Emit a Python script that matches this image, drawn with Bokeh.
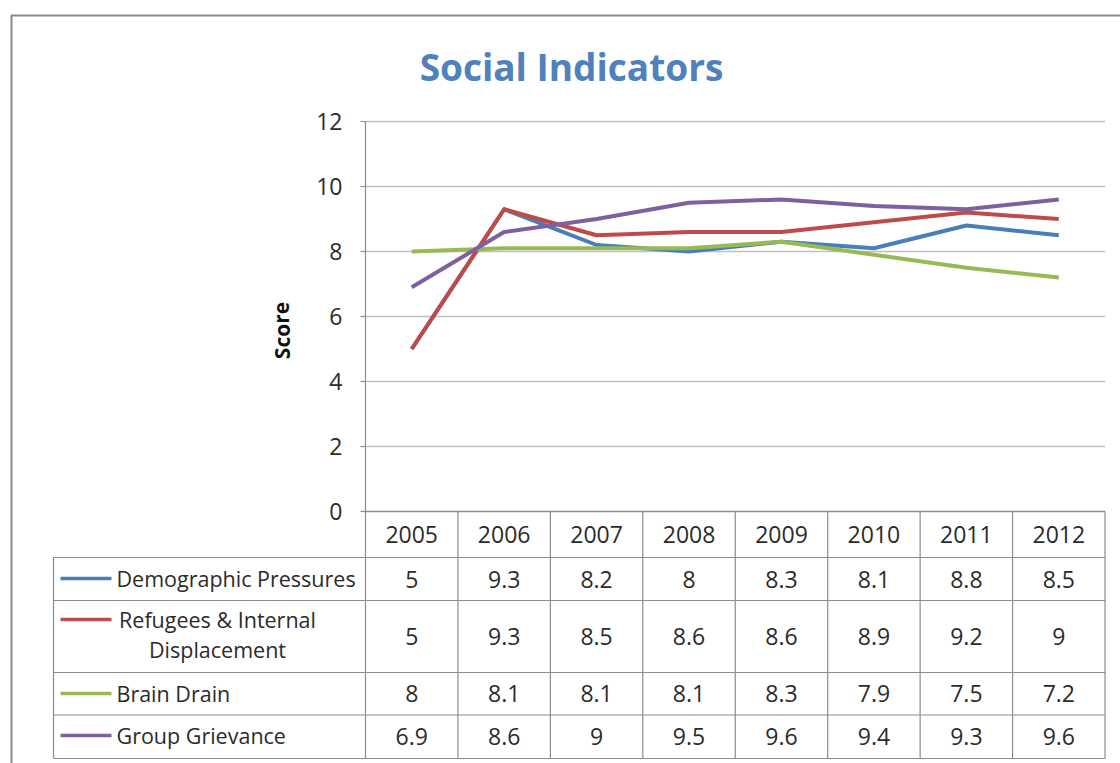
from bokeh.plotting import figure
from bokeh.models import Range1d
from bokeh.core.properties import value
from bokeh.embed import file_html
from bokeh.resources import INLINE

# ---------------- data ----------------
years = ["2005", "2006", "2007", "2008", "2009", "2010", "2011", "2012"]
demographic = [5, 9.3, 8.2, 8, 8.3, 8.1, 8.8, 8.5]
refugees = [5, 9.3, 8.5, 8.6, 8.6, 8.9, 9.2, 9]
brain_drain = [8, 8.1, 8.1, 8.1, 8.3, 7.9, 7.5, 7.2]
grievance = [6.9, 8.6, 9, 9.5, 9.6, 9.4, 9.3, 9.6]
series_names = ["Demographic Pressures", "Refugees & Internal Displacement", "Brain Drain", "Group Grievance"]
y_ticks = [0, 2, 4, 6, 8, 10, 12]
y_tick_labels = ["0", "2", "4", "6", "8", "10", "12"]
title = "Social Indicators"
y_label = "Score"

series = [demographic, refugees, brain_drain, grievance]
colors = ["#4A7EBB", "#BE4B48", "#98B954", "#7D60A0"]

# ---------------- layout (page pixels -> data units) ----------------
W, H = 1120, 763
OFF = 0                  # canvas origin on the page
PX0, KX = 365.0, 92.44   # page x of category edge -0.5, px per category
PY0, KY = 511.0, 32.5    # page y of score 0, px per score unit


def dx(px):
    return -0.5 + (px - PX0) / KX


def dy(py):
    return (PY0 - py) / KY


p = figure(width=W, height=H, output_backend="svg", toolbar_location=None,
           x_range=Range1d(dx(OFF), dx(OFF + W)), y_range=Range1d(dy(OFF + H), dy(OFF)),
           x_axis_location=None, y_axis_location=None, min_border=0)
p.xgrid.visible = False
p.ygrid.visible = False
p.outline_line_color = None
p.background_fill_color = "white"
p.border_fill_color = "white"

FONT = value("Open Sans")
TXT = "#2b2b2b"
GRID = "#BFBFBF"
AXIS = "#8C8C8C"
n = len(years)
xs = list(range(n))

# outer chart border
p.line(x=[dx(11), dx(11), dx(1200)], y=[dy(800), dy(15), dy(15)], line_color="#8A8A8A", line_width=2)

# title
p.text(x=[dx(571)], y=[dy(66)], text=[title], text_font=FONT, text_font_size="37px",
       text_font_style="bold", text_color="#4F81BD", text_align="center", text_baseline="middle")

# gridlines
gy = [t for t in y_ticks if t > 0]
p.segment(x0=[-0.5] * len(gy), x1=[n - 0.5] * len(gy), y0=gy, y1=gy, line_color=GRID, line_width=1.5)

# y tick marks and labels
p.segment(x0=[dx(360)] * len(y_ticks), x1=[-0.5] * len(y_ticks), y0=y_ticks, y1=y_ticks,
          line_color=AXIS, line_width=1.2)
p.text(x=[dx(342)] * len(y_ticks), y=y_ticks, text=y_tick_labels, text_font=FONT, text_font_size="23px",
       text_color=TXT, text_align="right", text_baseline="middle")

# y axis title
p.text(x=[dx(281)], y=[dy(330)], text=[y_label], text_font=FONT, text_font_size="21px",
       text_font_style="bold", text_color="#111111", text_align="center", text_baseline="middle",
       angle=1.5708)

# ---------------- data table ----------------
row_edges = [557, 600, 672, 714.5, 758]
header_top = 511
left_edge = 53
right_edge = PX0 + KX * n

for ry in row_edges:
    p.segment(x0=[dx(left_edge)], x1=[dx(right_edge)], y0=[dy(ry)], y1=[dy(ry)], line_color=AXIS, line_width=1.2)
for k in range(n + 1):
    xe = k - 0.5
    top = 121 if k == 0 else header_top
    p.segment(x0=[xe], x1=[xe], y0=[dy(top)], y1=[dy(row_edges[-1])], line_color=AXIS, line_width=1.2)
p.segment(x0=[dx(left_edge)], x1=[dx(left_edge)], y0=[dy(row_edges[0])], y1=[dy(row_edges[-1])],
          line_color=AXIS, line_width=1.2)
p.segment(x0=[-0.5], x1=[n - 0.5], y0=[0], y1=[0], line_color=AXIS, line_width=1.5)

# header labels
p.text(x=xs, y=[dy((header_top + row_edges[0]) / 2)] * n, text=years, text_font=FONT, text_font_size="23px",
       text_color=TXT, text_align="center", text_baseline="middle")

row_centers = [(row_edges[i] + row_edges[i + 1]) / 2 for i in range(4)]
for vals, rc in zip(series, row_centers):
    p.text(x=xs, y=[dy(rc)] * n, text=[("%g" % v) for v in vals], text_font=FONT, text_font_size="23px",
           text_color=TXT, text_align="center", text_baseline="middle")

# legend keys and series names in the table
key_y = [578, 619, 693, 735]
for name, col, ky in zip(series_names, colors, key_y):
    p.line(x=[dx(60), dx(111)], y=[dy(ky), dy(ky)], line_color=col, line_width=3.5)
for idx in [0, 2, 3]:
    p.text(x=[dx(116)], y=[dy(key_y[idx])], text=[series_names[idx]], text_font=FONT, text_font_size="21.5px",
           text_color=TXT, text_align="left", text_baseline="middle")
words = series_names[1].split(" ")
p.text(x=[dx(217), dx(217)], y=[dy(619), dy(649)], text=[" ".join(words[:3]), " ".join(words[3:])],
       text_font=FONT, text_font_size="21.5px", text_color=TXT, text_align="center", text_baseline="middle")

# ---------------- series lines ----------------
for vals, col in zip(series, colors):
    p.line(x=xs, y=vals, line_color=col, line_width=4, line_join="round")

open("out.html", "w").write(file_html(p, INLINE))
